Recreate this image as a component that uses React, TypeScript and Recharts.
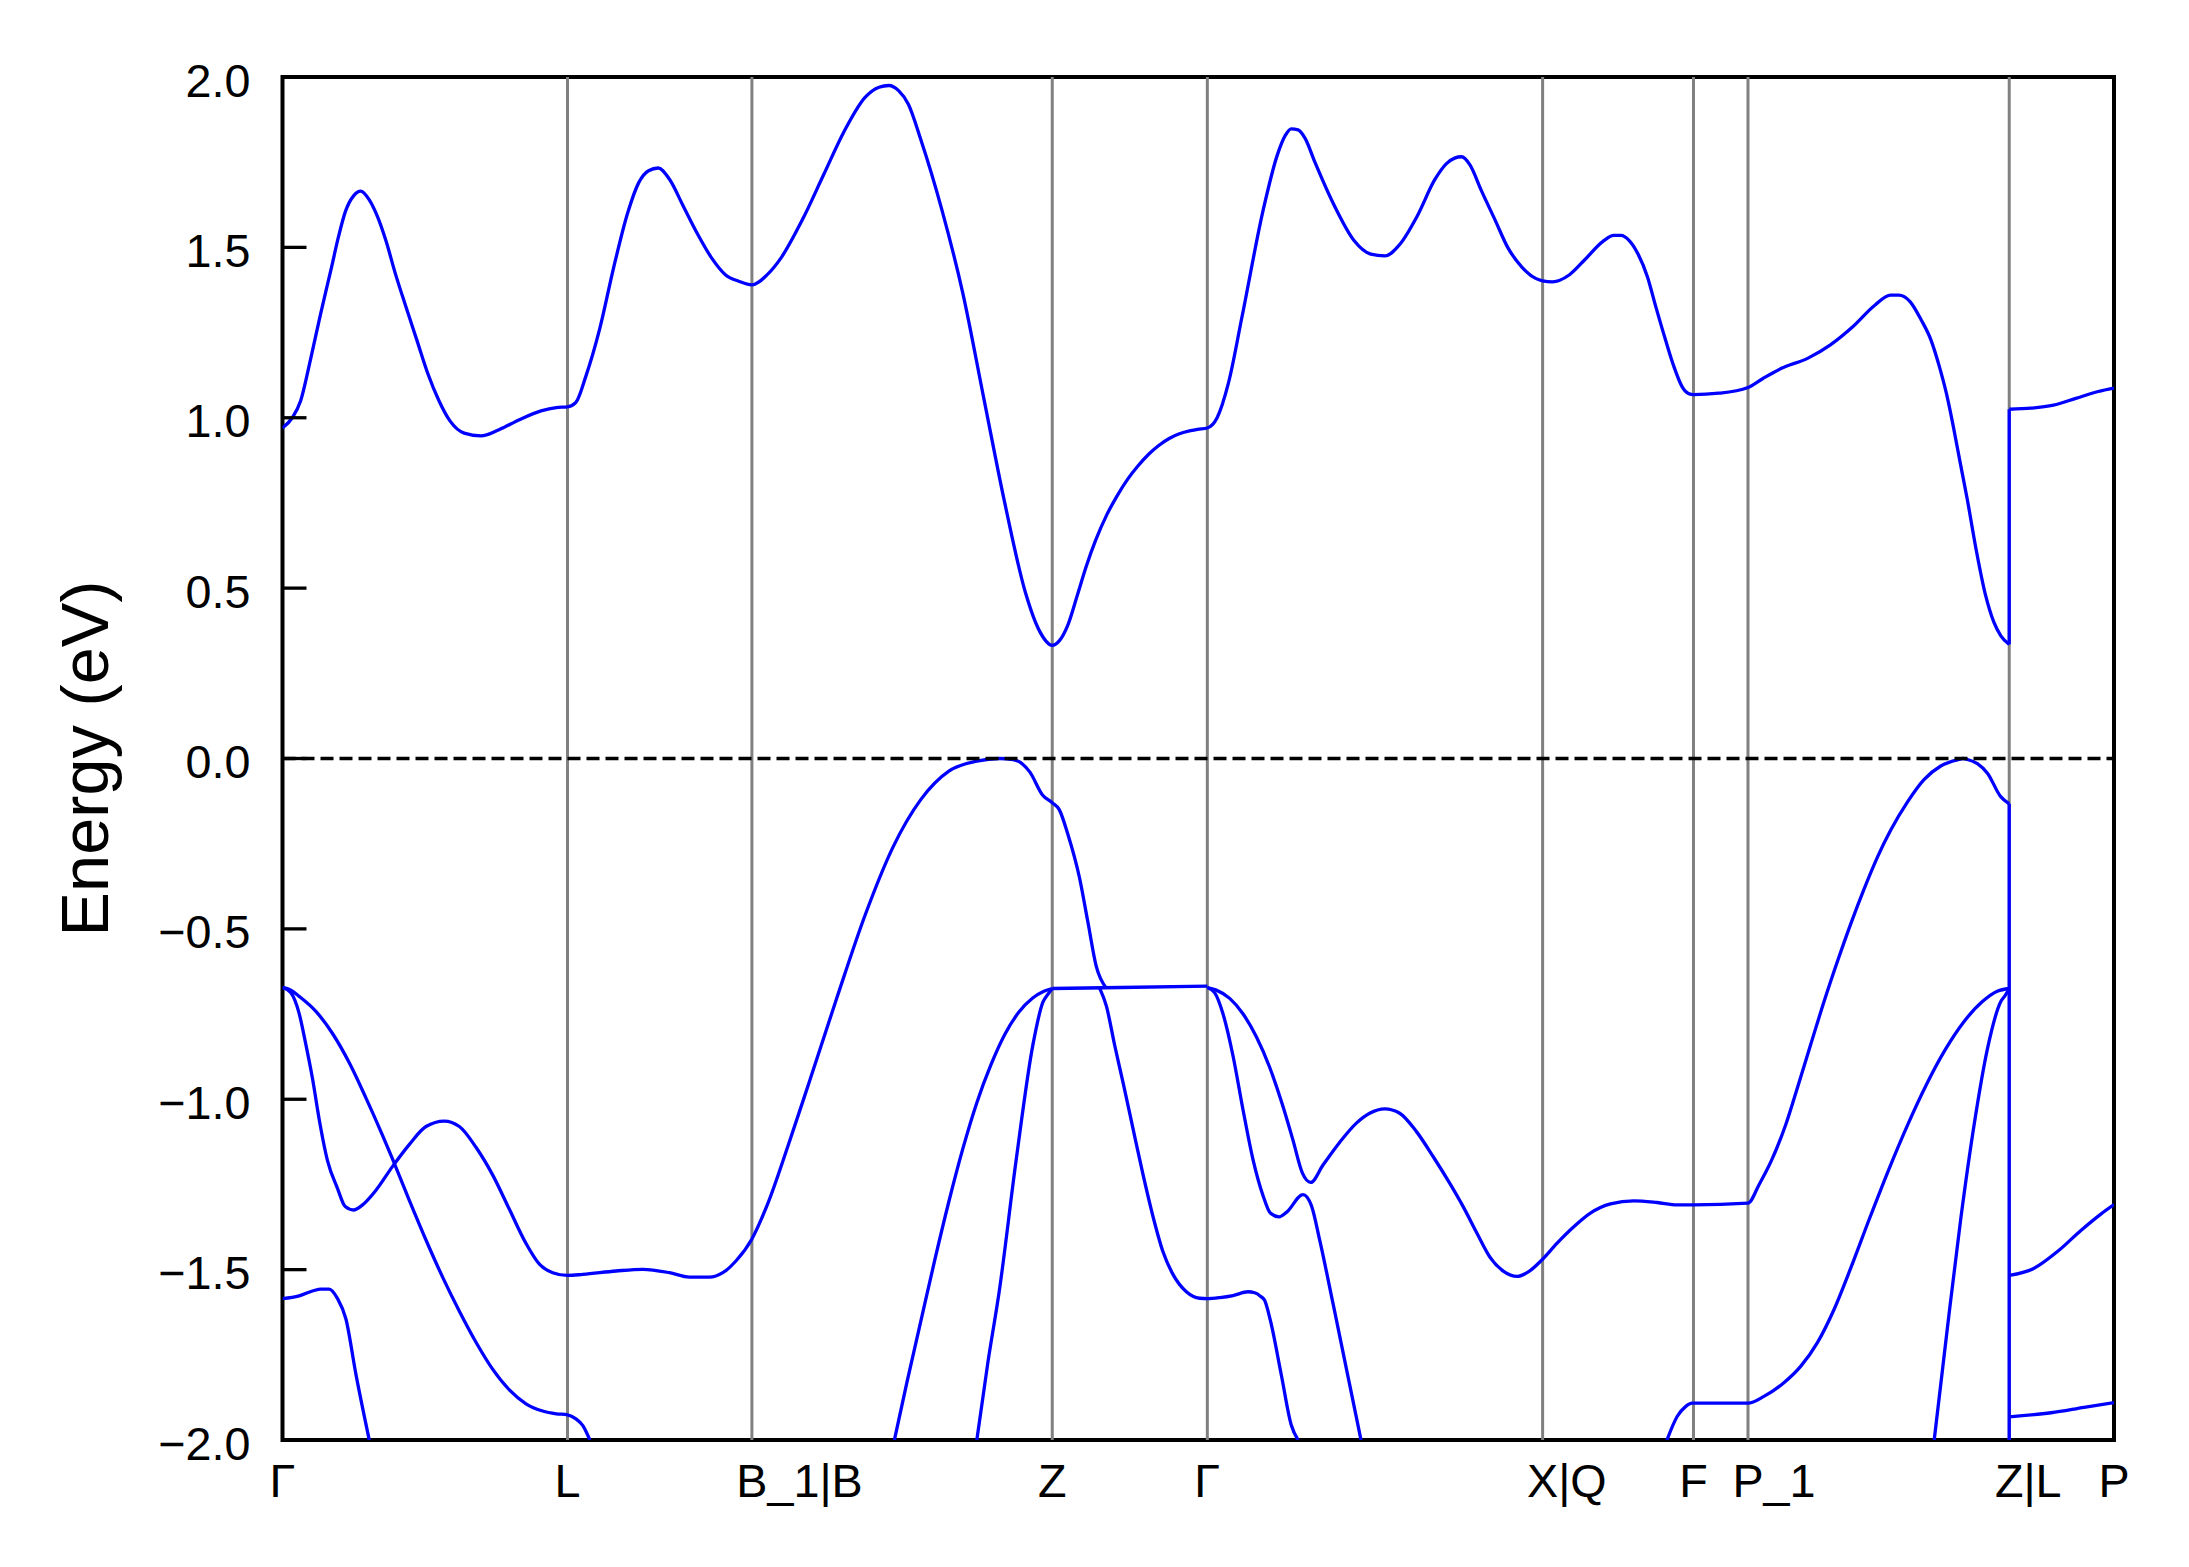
import React from 'react';
import { LineChart, Line, XAxis, YAxis, ReferenceArea, Label } from 'recharts';

// k-path positions (arbitrary path-length units) and high-symmetry labels
const kTicks = [0, 204, 336, 551, 662, 902, 1010, 1049, 1236, 1311];
const kLabels = ['Γ', 'L', 'B_1|B', 'Z', 'Γ', 'X|Q', 'F', 'P_1', 'Z|L', 'P'];
const eTicks = [2, 1.5, 1, 0.5, 0, -0.5, -1, -1.5, -2];

type Pt = [number, number];

// conduction band (k, E in eV)
const cbMain: Pt[] = [
  [0, 0.97], [7, 1.0], [13, 1.05], [20, 1.17], [27, 1.3], [35, 1.44], [40, 1.53], [45, 1.605], [51, 1.652], [56, 1.665],
  [62, 1.64], [68, 1.59], [74, 1.52], [81, 1.42], [88, 1.33], [96, 1.23], [104, 1.13], [112, 1.05], [120, 0.99], [130, 0.955],
  [142, 0.947], [155, 0.965], [170, 0.995], [185, 1.02], [196, 1.03], [204, 1.032],
  [210, 1.045], [217, 1.12], [227, 1.26], [237, 1.44], [247, 1.6], [255, 1.69], [262, 1.725], [269, 1.733], [277, 1.7],
  [287, 1.62], [297, 1.54], [307, 1.47], [317, 1.42], [327, 1.4], [336, 1.39],
  [347, 1.42], [357, 1.47], [372, 1.58], [387, 1.71], [402, 1.84], [417, 1.94], [427, 1.97], [434, 1.975], [441, 1.96],
  [448, 1.92], [457, 1.815], [472, 1.61], [487, 1.365], [502, 1.057], [517, 0.75], [532, 0.484], [542, 0.373], [551, 0.332],
  [556, 0.345], [562, 0.39], [569, 0.48], [575, 0.56], [582, 0.64], [590, 0.715], [597, 0.768], [605, 0.82], [612, 0.857],
  [620, 0.893], [627, 0.918], [635, 0.94], [642, 0.953], [650, 0.962], [655, 0.966], [662, 0.97],
  [669, 1.0], [677, 1.1], [687, 1.3], [702, 1.61], [712, 1.77], [718, 1.83], [722, 1.848], [727, 1.845], [732, 1.82], [739, 1.75],
  [752, 1.63], [767, 1.52], [779, 1.48], [789, 1.475], [800, 1.51], [812, 1.59], [825, 1.7], [833, 1.745], [839, 1.762], [844, 1.766],
  [850, 1.742], [858, 1.668], [868, 1.58], [877, 1.5], [887, 1.443], [897, 1.409], [902, 1.402], [909, 1.399], [921, 1.419],
  [932, 1.463], [945, 1.517], [953, 1.535], [958, 1.535], [964, 1.52], [970, 1.483], [977, 1.414], [983, 1.326], [990, 1.228],
  [996, 1.15], [1002, 1.09], [1007, 1.07], [1010, 1.068], [1028, 1.072], [1049, 1.089], [1060, 1.116], [1073, 1.145], [1092, 1.175],
  [1108, 1.214], [1124, 1.267], [1140, 1.331], [1151, 1.36], [1157, 1.36], [1165, 1.341], [1173, 1.287], [1180, 1.228], [1186, 1.15],
  [1191, 1.072], [1196, 0.974], [1201, 0.866], [1206, 0.76], [1212, 0.62], [1219, 0.48], [1225, 0.4], [1230, 0.36], [1236, 0.335],
];
const cbLP: Pt[] = [[1236, 1.025], [1251.7, 1.028], [1267.7, 1.037], [1283.7, 1.057], [1299.7, 1.077], [1311, 1.087]];
const cbJump: Pt[] = [[1236, 0.335], [1236, 1.025]];

// valence bands
const vbA: Pt[] = [
  [0, -0.672], [6, -0.68], [11.9, -0.698], [23.9, -0.742], [35.8, -0.807], [47.8, -0.893], [59.7, -0.996], [71.6, -1.106],
  [78.8, -1.176], [90.7, -1.296], [102.7, -1.413], [114.6, -1.522], [126.6, -1.622], [138.5, -1.713], [150.4, -1.792],
  [162.4, -1.853], [174.3, -1.894], [186.2, -1.915], [196, -1.923], [204, -1.926], [210, -1.938], [215, -1.958], [220, -2.0],
];
const vbB: Pt[] = [
  [0, -0.672], [6, -0.6875], [11.9, -0.748], [16.7, -0.839], [21.5, -0.94], [26.3, -1.06], [32.2, -1.18], [39.4, -1.262],
  [44.9, -1.315], [50.9, -1.325], [57.3, -1.31], [66.9, -1.267], [78.8, -1.197], [90.7, -1.133], [102.7, -1.08], [115.8, -1.064],
  [126.6, -1.08], [138.5, -1.141], [150.4, -1.222], [162.4, -1.323], [174.3, -1.423], [183.9, -1.484], [193.4, -1.509], [204, -1.517],
  [214.9, -1.514], [238.8, -1.504], [257.9, -1.499], [277, -1.509], [291.3, -1.522], [305.6, -1.522], [315.2, -1.509],
  [324.7, -1.474], [336, -1.41], [347, -1.31], [362, -1.135], [377, -0.95], [397, -0.7], [417, -0.46], [437, -0.26], [457, -0.12],
  [477, -0.037], [497, -0.008], [513, 0.0], [523, -0.003], [535, -0.04], [544, -0.107], [551, -0.13], [556, -0.15], [562, -0.22],
  [570.5, -0.35], [576.5, -0.48], [582.5, -0.61], [589.7, -0.674],
];
const vbC: Pt[] = [
  [0, -1.585], [11.9, -1.577], [22, -1.562], [27.5, -1.557], [33.4, -1.557], [39.4, -1.585], [45.4, -1.645], [52.5, -1.806], [62.1, -2.0],
];
const vbG: Pt[] = [
  [438, -2.0], [447, -1.83], [457, -1.65], [467, -1.47], [477, -1.3], [487, -1.145], [497, -1.01], [507, -0.9], [517, -0.81],
  [527, -0.745], [537, -0.703], [545, -0.683], [551, -0.675],
];
const vbH: Pt[] = [
  [497, -2.0], [505, -1.77], [513, -1.565], [525.2, -1.177], [537.2, -0.839], [544.3, -0.715], [547.9, -0.692], [551, -0.675],
];
const vbFlat: Pt[] = [[551, -0.675], [600, -0.672], [662, -0.668]];
const vbD: Pt[] = [
  [584.9, -0.674], [589.7, -0.726], [595.6, -0.84], [601.6, -0.95], [608.8, -1.086], [615.9, -1.22], [623.1, -1.344],
  [630.2, -1.447], [637.4, -1.514], [647, -1.565], [656.5, -1.584], [662, -1.585], [671, -1.582], [680.4, -1.576],
  [691.1, -1.565], [695.9, -1.568], [700, -1.578], [703, -1.59], [707, -1.647], [715, -1.81], [722, -1.955], [727, -2.0],
];
const vbE: Pt[] = [
  [662, -0.672], [668, -0.679], [678, -0.704], [687.5, -0.749], [697, -0.816], [706.6, -0.906], [716, -1.019], [723.3, -1.12],
  [730, -1.216], [736, -1.244], [744.8, -1.193], [756.8, -1.126], [768.7, -1.07], [778.2, -1.041], [789, -1.028], [799.7, -1.041],
  [811.7, -1.095], [823.6, -1.168], [836, -1.25], [845.5, -1.318], [855, -1.393], [864.6, -1.465], [874.1, -1.505], [883.7, -1.52],
  [892, -1.506], [901.6, -1.471], [912.4, -1.422], [924.3, -1.374], [936.2, -1.334], [950.6, -1.307], [967.3, -1.298],
  [984, -1.303], [998.3, -1.31], [1010, -1.31], [1049, -1.305], [1057, -1.25], [1066, -1.178], [1076, -1.075], [1085, -0.958],
  [1094, -0.838], [1103.4, -0.714], [1113, -0.596], [1122.5, -0.486], [1132, -0.384], [1141.6, -0.29], [1151.2, -0.21],
  [1163.1, -0.128], [1175, -0.062], [1187, -0.022], [1198.9, -0.004], [1203, 0.0], [1206, -0.003], [1213.2, -0.015],
  [1220.4, -0.043], [1229.9, -0.112], [1236, -0.133],
];
const vbF: Pt[] = [
  [662, -0.672], [667.2, -0.687], [673.2, -0.749], [680.4, -0.873], [687.5, -1.03], [694.7, -1.177], [701.9, -1.283],
  [707.1, -1.334], [713.3, -1.345], [718.6, -1.332], [730.5, -1.28], [736.5, -1.312], [742.4, -1.413], [752, -1.6], [762, -1.8], [772, -2.0],
];
const vbLow: Pt[] = [
  [991, -2.0], [998.3, -1.931], [1004.3, -1.902], [1009, -1.892], [1049, -1.892], [1060.4, -1.872], [1074.7, -1.832],
  [1086.7, -1.784], [1098.6, -1.715], [1110.6, -1.617], [1122.6, -1.495], [1136, -1.35], [1150, -1.204], [1163.3, -1.075],
  [1176.6, -0.958], [1190, -0.856], [1203.3, -0.774], [1216.6, -0.714], [1227.5, -0.683], [1236, -0.675],
];
const vbSteep: Pt[] = [
  [1182.3, -2.0], [1191.8, -1.669], [1201.3, -1.351], [1210.9, -1.074], [1220.4, -0.852], [1229.9, -0.714], [1233.5, -0.693], [1236, -0.675],
];
const vbJump: Pt[] = [[1236, -0.133], [1236, -2.0]];
const vbLPUpper: Pt[] = [[1236, -1.517], [1253.8, -1.496], [1270.5, -1.447], [1287.3, -1.385], [1301.6, -1.337], [1311, -1.309]];
const vbLPLower: Pt[] = [[1236, -1.932], [1266, -1.92], [1289.6, -1.904], [1311, -1.89]];

const fermi: Pt[] = [[0, 0], [1311, 0]];

const smoothBands: Pt[][] = [cbMain, cbLP, vbA, vbB, vbC, vbG, vbH, vbFlat, vbD, vbE, vbF, vbLow, vbSteep, vbLPUpper, vbLPLower];
const straightBands: Pt[][] = [cbJump, vbJump];

const toRows = (pts: Pt[]) => pts.map(([k, e]) => ({ k, e }));

const FONT = '"Liberation Sans", Arial, Helvetica, sans-serif';
const FS = 46.7;
const BLUE = '#0000ff';
const GRAY = '#808080';

// advance widths (em) of the leading glyph: the first glyph of each label sits centred on its tick
const firstGlyphEm: Record<string, number> = { 'Γ': 0.556, L: 0.556, B: 0.667, Z: 0.611, X: 0.667, F: 0.611, P: 0.667 };

const YTick = (props: any) => {
  const { x, y, payload } = props;
  const s = Number(payload.value).toFixed(1).replace('-', '\u2212');
  return (
    <g>
      <line x1={x} x2={x + 24} y1={y} y2={y} stroke="#000" strokeWidth={3.3} />
      <text x={x - 32} y={y} dy={19.5} textAnchor="end" fontSize={FS} fill="#000" fontFamily={FONT}>
        {s}
      </text>
    </g>
  );
};

const XTick = (props: any) => {
  const { x, y, payload } = props;
  const idx = kTicks.indexOf(payload.value);
  const s = idx >= 0 ? kLabels[idx] : '';
  const w = (firstGlyphEm[s.charAt(0)] ?? 0.6) * FS;
  return (
    <text x={x - w / 2} y={y + 57} textAnchor="start" fontSize={FS} fill="#000" fontFamily={FONT}>
      {s}
    </text>
  );
};

const YLabel = () => (
  <text
    x={77}
    y={750.5}
    transform="rotate(-90, 77, 750.5)"
    textAnchor="middle"
    dominantBaseline="central"
    fontSize={66.7}
    fill="#000"
    fontFamily={FONT}
  >
    Energy (eV)
  </text>
);

export default function App() {
  return (
    <div style={{ width: 2173, height: 1551 }}>
      <LineChart width={2173} height={1551} margin={{ top: 69, right: 67, bottom: 0, left: 0 }}>
        <XAxis
          dataKey="k"
          type="number"
          domain={[0, 1311]}
          allowDataOverflow
          ticks={kTicks}
          interval={0}
          tick={<XTick />}
          tickLine={false}
          tickSize={0}
          tickMargin={0}
          axisLine={false}
          height={119}
        />
        <YAxis
          dataKey="e"
          type="number"
          domain={[-2, 2]}
          allowDataOverflow
          ticks={eTicks}
          interval={0}
          tick={<YTick />}
          tickLine={false}
          tickSize={0}
          tickMargin={0}
          axisLine={false}
          width={274.5}
        >
          <Label content={<YLabel />} />
        </YAxis>
        {kTicks.slice(1, -1).map((k, i) => (
          <Line
            key={'sym' + i}
            data={toRows([[k, -2], [k, 2]])}
            dataKey="e"
            type="linear"
            stroke={GRAY}
            strokeWidth={3}
            dot={false}
            activeDot={false}
            isAnimationActive={false}
          />
        ))}
        {smoothBands.map((b, i) => (
          <Line
            key={'band' + i}
            data={toRows(b)}
            dataKey="e"
            type="monotone"
            stroke={BLUE}
            strokeWidth={3.3}
            dot={false}
            activeDot={false}
            isAnimationActive={false}
          />
        ))}
        {straightBands.map((b, i) => (
          <Line
            key={'jump' + i}
            data={toRows(b)}
            dataKey="e"
            type="linear"
            stroke={BLUE}
            strokeWidth={3.3}
            dot={false}
            activeDot={false}
            isAnimationActive={false}
          />
        ))}
        <Line
          data={toRows(fermi)}
          dataKey="e"
          type="linear"
          stroke="#000"
          strokeWidth={3.3}
          strokeDasharray="13 6"
          dot={false}
          activeDot={false}
          isAnimationActive={false}
        />
        <ReferenceArea x1={0} x2={1311} y1={-2} y2={2} fill="none" fillOpacity={0} stroke="#000" strokeWidth={4} ifOverflow="visible" />
      </LineChart>
    </div>
  );
}
